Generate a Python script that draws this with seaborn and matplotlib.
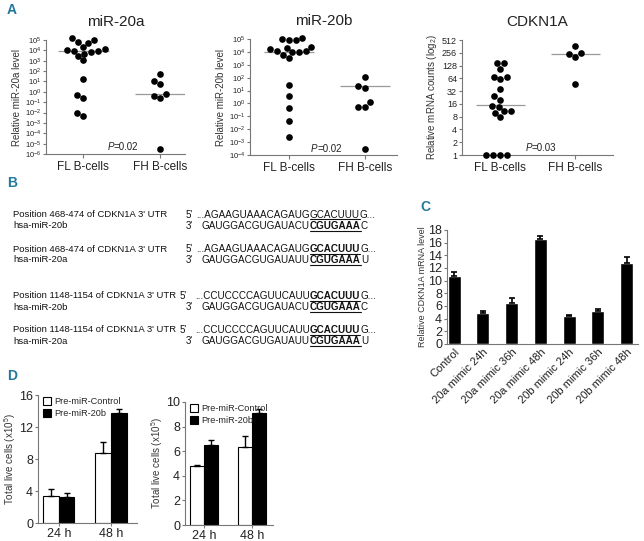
import numpy as np
import pandas as pd
import seaborn as sb
from matplotlib import pyplot as plt
from matplotlib.patches import Patch
from matplotlib.lines import Line2D

# ---- panel A data (log values) ----
groups = ["FL B-cells", "FH B-cells"]
mir20a_fl_log10 = [5.16, 5.03, 4.78, 4.71, 4.30, 4.14, 4.05, 3.98, 3.98, 3.83, 3.67,
                   3.44, 3.03, 1.19, -0.30, -0.62, -2.05, -2.37]
mir20a_fh_log10 = [1.70, 1.03, 0.71, -0.21, -0.40, -0.56, -5.48]
mir20a_line_log10 = [3.9, -0.2]
mir20b_fl_log10 = [5.10, 4.97, 4.92, 4.92, 4.41, 4.33, 4.20, 4.10, 4.07, 4.02, 3.97,
                   3.76, 3.50, 1.43, 0.61, -0.37, -1.33, -2.57]
mir20b_fh_log10 = [2.03, 1.36, 1.23, 0.09, -0.25, -0.25, -3.53]
mir20b_line_log10 = [4.02, 1.36]
cdkn1a_fl = [144, 144, 106, 69, 63, 70, 36, 24, 20, 14.5, 13.7, 11, 10.8, 9.9, 8, 1, 1, 1, 1]
cdkn1a_fh = [369, 238, 249, 207, 48]
cdkn1a_line = [14.7, 238]

# ---- panel C data ----
c_labels = ["Control", "20a mimic 24h", "20a mimic 36h", "20a mimic 48h",
            "20b mimic 24h", "20b mimic 36h", "20b mimic 48h"]
c_means = [10.7, 4.85, 6.5, 16.5, 4.45, 5.25, 12.85]
c_err = [0.6, 0.35, 0.8, 0.55, 0.12, 0.2, 0.95]

# ---- panel D data ----
d_times = ["24 h", "48 h"]
d_groups = ["Pre-miR-Control", "Pre-miR-20b"]
d1_ctrl = [3.35, 8.7]
d1_ctrl_err = [0.85, 1.4]
d1_20b = [3.26, 13.8]
d1_20b_err = [0.45, 0.5]
d2_ctrl = [4.78, 6.35]
d2_ctrl_err = [0.06, 0.85]
d2_20b = [6.54, 9.14]
d2_20b_err = [0.36, 0.26]

# ---- panel B text ----
b_rows = [
    ("Position 468-474 of CDKN1A 3' UTR", "5'", "...AGAAGUAAACAGAUG", "GCACUUU", "G...", False),
    ("hsa-miR-20b", "3'", "GAUGGACGUGAUACU", "CGUGAAA", "C", True),
    ("Position 468-474 of CDKN1A 3' UTR", "5'", "...AGAAGUAAACAGAUG", "GCACUUU", "G...", True),
    ("hsa-miR-20a", "3'", "GAUGGACGUGAUAUU", "CGUGAAA", "U", True),
    ("Position 1148-1154 of CDKN1A 3' UTR", "5'", "...CCUCCCCAGUUCAUU", "GCACUUU", "G...", True),
    ("hsa-miR-20b", "3'", "GAUGGACGUGAUACU", "CGUGAAA", "C", True),
    ("Position 1148-1154 of CDKN1A 3' UTR", "5'", "...CCUCCCCAGUUCAUU", "GCACUUU", "G...", True),
    ("hsa-miR-20a", "3'", "GAUGGACGUGAUAUU", "CGUGAAA", "U", True),
]
b_row_y = [215, 226, 249, 260, 296, 307, 330, 341]

W, H = 644, 541
sb.set_style("ticks")
plt.rcParams['font.family'] = ['Liberation Sans', 'DejaVu Sans']
plt.rcParams['mathtext.fontset'] = 'custom'
plt.rcParams['mathtext.rm'] = 'Liberation Sans'
plt.rcParams['mathtext.it'] = 'Liberation Sans:italic'
plt.rcParams['axes.edgecolor'] = '#777777'
plt.rcParams['xtick.color'] = '#777777'
plt.rcParams['ytick.color'] = '#777777'
plt.rcParams['xtick.labelcolor'] = '#222222'
plt.rcParams['ytick.labelcolor'] = '#222222'
plt.rcParams['axes.linewidth'] = 0.8

fig = plt.figure(figsize=(W / 100, H / 100), dpi=100)
TEAL = '#23799b'


def px_axes(x0, y0, x1, y1):
    return fig.add_axes([x0 / W, 1 - y1 / H, (x1 - x0) / W, (y1 - y0) / H])


def ptext(ax, x, y, label):
    ax.text(x, y, "P", style='italic', ha='right', va='center', fontsize=7, color='#222222')
    ax.text(x, y, label, ha='left', va='center', fontsize=7, color='#222222')


def scatter_panel(ax, fl, fh, line, base, title, ylabel, xlim):
    df = pd.DataFrame({"group": [groups[0]] * len(fl) + [groups[1]] * len(fh),
                       "value": list(fl) + list(fh)})
    sb.swarmplot(data=df, x="group", y="value", color='black', size=4.8,
                 log_scale=base, ax=ax, order=groups)
    for c in ax.collections:
        c.set_clip_on(False)
    ax.hlines(line, np.arange(2) - 0.33, np.arange(2) + 0.33, color='#999999', lw=0.9, zorder=0)
    ax.set_xlim(*xlim)
    ax.set_title(title, fontsize=11, color='#222222', pad=10)
    ax.set_ylabel(ylabel, fontsize=7, color='#333333', labelpad=2)
    ax.set_xlabel("")
    ax.tick_params(axis='x', labelsize=8.5, length=3, pad=2)
    ax.tick_params(axis='y', labelsize=5.5, length=2.5, pad=1)
    ax.minorticks_off()
    sb.despine(ax=ax)


# ---- A1 ----
ax = px_axes(46, 40, 185, 154)
scatter_panel(ax, 10.0 ** np.array(mir20a_fl_log10), 10.0 ** np.array(mir20a_fh_log10),
              10.0 ** np.array(mir20a_line_log10), 10, "miR-20a", "Relative miR-20a level", (-0.48, 1.32))
ex = np.arange(-6, 6)
ax.set_yticks(10.0 ** ex)
ax.set_yticklabels([f"$10^{{{k}}}$" for k in ex])
ax.set_ylim(10.0 ** -6, 10.0 ** 5)
ptext(ax, 0.4, 10 ** -5.3, "=0.02")

# ---- A2 ----
ax = px_axes(250, 39, 397, 155)
scatter_panel(ax, 10.0 ** np.array(mir20b_fl_log10), 10.0 ** np.array(mir20b_fh_log10),
              10.0 ** np.array(mir20b_line_log10), 10, "miR-20b", "Relative miR-20b level", (-0.51, 1.42))
ex = np.arange(-4, 6)
ax.set_yticks(10.0 ** ex)
ax.set_yticklabels([f"$10^{{{k}}}$" for k in ex])
ax.set_ylim(10.0 ** -4, 10.0 ** 5)
ptext(ax, 0.37, 10 ** -3.5, "=0.02")

# ---- A3 ----
ax = px_axes(462, 40, 613, 155)
scatter_panel(ax, cdkn1a_fl, cdkn1a_fh, cdkn1a_line, 2, "CDKN1A",
              "Relative mRNA counts (log$_2$)", (-0.51, 1.5))
ticks2 = 2 ** np.arange(0, 10)
ax.set_yticks(ticks2)
ax.set_yticklabels([str(t) for t in ticks2])
ax.set_ylim(1, 512)
ax.tick_params(axis='y', labelsize=6.5)
ptext(ax, 0.42, 2 ** 0.55, "=0.03")

# ---- C ----
ax = px_axes(447, 230, 638, 344)
sb.barplot(x=c_labels, y=c_means, color='black', saturation=1, width=0.45, ax=ax)
ax.errorbar(np.arange(len(c_means)), c_means, yerr=[np.zeros(len(c_err)), c_err],
            fmt='none', ecolor='black', elinewidth=1.2, capsize=2.5, capthick=1.2)
ax.set_ylim(0, 18)
ax.set_yticks(np.arange(0, 19, 2))
ax.set_xlim(-0.25, 6.4)
ax.set_ylabel("Relative CDKN1A mRNA level", fontsize=6.5, color='#333333', labelpad=1)
ax.tick_params(axis='y', labelsize=9, length=2.5, pad=1)
ax.tick_params(axis='x', length=0, labelsize=8, pad=2)
plt.setp(ax.get_xticklabels(), rotation=45, ha='right', rotation_mode='anchor')
sb.despine(ax=ax)


# ---- D ----
def bar_panel(ax, ctrl, ctrl_err, t20b, t20b_err, ymax, step, xlim):
    df = pd.DataFrame({"time": d_times * 2,
                       "group": [d_groups[0]] * 2 + [d_groups[1]] * 2,
                       "value": list(ctrl) + list(t20b)})
    sb.barplot(data=df, x="time", y="value", hue="group", palette=['white', 'black'],
               saturation=1, edgecolor='black', linewidth=0.8, width=0.6, ax=ax, legend=False)
    for cont, err, vals in zip(ax.containers, [ctrl_err, t20b_err], [ctrl, t20b]):
        xs = [b.get_x() + b.get_width() / 2 for b in cont]
        ax.errorbar(xs, vals, yerr=[np.zeros(len(err)), err], fmt='none', ecolor='black',
                    elinewidth=1, capsize=2.5, capthick=1)
    ax.set_ylim(0, ymax)
    ax.set_yticks(np.arange(0, ymax + 0.1, step))
    ax.set_xlim(*xlim)
    ax.set_xlabel("")
    ax.set_ylabel("Total live cells (x10$^5$)", fontsize=7, color='#333333', labelpad=1)
    ax.tick_params(axis='y', labelsize=9, length=2.5, pad=1)
    ax.tick_params(axis='x', labelsize=9, length=2.5, pad=1)
    handles = [Patch(facecolor='white', edgecolor='black', lw=0.8),
               Patch(facecolor='black', edgecolor='black', lw=0.8)]
    leg = ax.legend(handles, d_groups, loc='upper left', frameon=False, fontsize=6.6,
                    handlelength=0.9, handleheight=0.9, handletextpad=0.35, borderaxespad=0.1,
                    labelspacing=0.35, bbox_to_anchor=(0.0, 1.02))
    leg.set_zorder(5)
    sb.despine(ax=ax)


ax = px_axes(38, 395, 137, 523)
bar_panel(ax, d1_ctrl, d1_ctrl_err, d1_20b, d1_20b_err, 16, 4, (-0.4, 1.5))
ax = px_axes(185, 402, 273, 525)
bar_panel(ax, d2_ctrl, d2_ctrl_err, d2_20b, d2_20b_err, 10, 2, (-0.4, 1.44))

# ---- panel letters ----
for letter, (lx, ly) in zip("ABCD", [(12, 10), (12, 183), (425, 207), (12, 376)]):
    fig.text(lx / W, 1 - ly / H, letter, color=TEAL, fontsize=10, fontweight='bold',
             ha='center', va='center')

# ---- panel B sequences ----
motif_x = 310
fig.canvas.draw()
renderer = fig.canvas.get_renderer()
for (name, end, pre, motif, post, bold), y in zip(b_rows, b_row_y):
    fy = 1 - y / H
    endx = 180 if "1148" in name else 186
    fig.text(13 / W, fy, name, fontsize=6.8, va='center', color='#111111')
    fig.text(endx / W, fy, end, fontsize=7, va='center', color='#111111')
    fig.text(motif_x / W, fy, pre, fontsize=7.1, va='center', ha='right', color='#111111')
    t = fig.text(motif_x / W, fy, motif, fontsize=7.1, va='center',
                 fontweight='bold' if bold else 'normal', color='#111111')
    bb = t.get_window_extent(renderer)
    fig.text(bb.x1 / W, fy, post, fontsize=7.1, va='center', color='#111111')
    uy = (bb.y0 + 0.5) / H
    fig.add_artist(Line2D([bb.x0 / W, bb.x1 / W], [uy, uy], transform=fig.transFigure,
                          color='#111111', lw=0.8))

fig.savefig("out.png", dpi=100)
